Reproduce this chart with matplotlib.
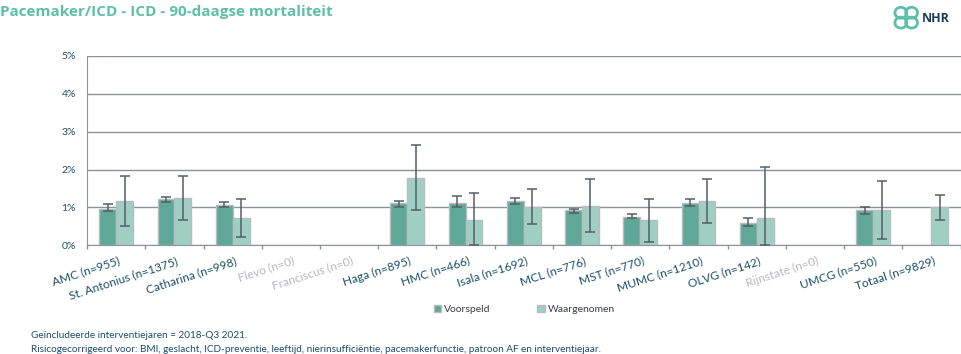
import matplotlib
matplotlib.use("Agg")
import matplotlib.pyplot as plt
import numpy as np
from matplotlib.patches import Circle, Patch

plt.rcParams['font.family'] = ['Lato', 'DejaVu Sans']

categories = ["AMC (n=955)", "St. Antonius (n=1375)", "Catharina (n=998)", "Flevo (n=0)",
              "Franciscus (n=0)", "Haga (n=895)", "HMC (n=466)", "Isala (n=1692)",
              "MCL (n=776)", "MST (n=770)", "MUMC (n=1210)", "OLVG (n=142)",
              "Rijnstate (n=0)", "UMCG (n=550)", "Totaal (n=9829)"]
voorspeld = [0.97, 1.23, 1.07, None, None, 1.11, 1.13, 1.16, 0.92, 0.76, 1.13, 0.60, None, 0.92, None]
v_low = [0.91, 1.14, 1.01, None, None, 1.00, 1.00, 1.10, 0.85, 0.71, 1.05, 0.50, None, 0.82, None]
v_high = [1.08, 1.28, 1.15, None, None, 1.18, 1.29, 1.25, 0.97, 0.84, 1.23, 0.72, None, 1.02, None]
waargenomen = [1.16, 1.26, 0.71, None, None, 1.79, 0.66, 1.00, 1.03, 0.66, 1.16, 0.71, None, 0.92, 1.00]
w_low = [0.50, 0.66, 0.21, None, None, 0.92, 0.00, 0.55, 0.34, 0.10, 0.58, 0.00, None, 0.16, 0.68]
w_high = [1.84, 1.82, 1.22, None, None, 2.65, 1.39, 1.49, 1.74, 1.22, 1.76, 2.08, None, 1.71, 1.33]
yticks = [0, 1, 2, 3, 4, 5]
ytick_labels = ["0%", "1%", "2%", "3%", "4%", "5%"]

c_v = "#5fa898"
c_w = "#9fcfc3"
c_edge = "#b8bcc0"
c_err = "#555e68"
c_text = "#1d4d6b"
c_grey = "#b4b8bc"
c_grid = "#8a939b"

fig = plt.figure(figsize=(9.62, 3.54), dpi=100)
ax = fig.add_axes([0.0905, 0.307, 0.908, 0.535])

x = np.arange(len(categories))
bw = 0.29

for i in x:
    if voorspeld[i] is not None:
        ax.bar(i - bw / 2, voorspeld[i], width=bw, color=c_v, edgecolor=c_edge, linewidth=1.0, zorder=3)
        ax.errorbar(i - bw / 2, voorspeld[i],
                    yerr=[[voorspeld[i] - v_low[i]], [v_high[i] - voorspeld[i]]],
                    fmt='none', ecolor=c_err, elinewidth=1.1, capsize=3.5, capthick=1.1, zorder=4)
    if waargenomen[i] is not None:
        ax.bar(i + bw / 2, waargenomen[i], width=bw, color=c_w, edgecolor=c_edge, linewidth=1.0, zorder=3)
        ax.errorbar(i + bw / 2, waargenomen[i],
                    yerr=[[waargenomen[i] - w_low[i]], [w_high[i] - waargenomen[i]]],
                    fmt='none', ecolor=c_err, elinewidth=1.1, capsize=3.5, capthick=1.1, zorder=4)

ax.set_xlim(-0.5, len(categories) - 0.5)
ax.set_ylim(0, 5)
ax.set_yticks(yticks)
ax.set_yticklabels(ytick_labels, fontsize=7.5, color=c_text)
ax.yaxis.grid(True, color=c_grid, linewidth=1.0, zorder=0)
ax.set_axisbelow(True)
ax.tick_params(axis='y', length=0, pad=8)

ax.set_xticks(x)
ax.set_xticklabels([])
ax.tick_params(axis='x', length=0)
ax.set_xticks(np.arange(len(categories) + 1) - 0.5, minor=True)
ax.tick_params(axis='x', which='minor', length=3, color=c_grid, width=1.0)

for i, lab in enumerate(categories):
    col = c_grey if "(n=0)" in lab else c_text
    ax.text(i + 0.03, -0.26, lab, rotation=18, rotation_mode='anchor', ha='right', va='top',
            fontsize=8.6, color=col, transform=ax.transData, clip_on=False)

for s in ['top', 'right']:
    ax.spines[s].set_visible(False)
ax.spines['left'].set_color(c_grid)
ax.spines['bottom'].set_color(c_grid)

# Title
fig.text(0.0, 0.965, "Pacemaker/ICD - ICD - 90-daagse mortaliteit", fontsize=11, fontweight='bold',
         color="#5cc0a8", ha='left', va='center', family=['Open Sans', 'DejaVu Sans'])

# NHR logo
lax = fig.add_axes([0.928, 0.915, 0.028, 0.07])
lax.set_xlim(0, 1); lax.set_ylim(0, 1); lax.axis('off')
for (cx, cy) in [(0.3, 0.3), (0.7, 0.3), (0.3, 0.7), (0.7, 0.7)]:
    lax.add_patch(Circle((cx, cy), 0.22, fill=False, edgecolor="#5cc0a8", linewidth=2.0))
fig.text(0.958, 0.948, "NHR", fontsize=9, fontweight='bold', color="#1d3c5a", ha='left', va='center',
         family=['Open Sans', 'DejaVu Sans'])

# Legend
handles = [Patch(facecolor=c_v, edgecolor=c_edge, label="Voorspeld"),
           Patch(facecolor=c_w, edgecolor=c_edge, label="Waargenomen")]
fig.legend(handles=handles, loc='center', bbox_to_anchor=(0.545, 0.125), ncol=2, frameon=False,
           fontsize=7.5, handlelength=0.7, handleheight=0.7, columnspacing=4.5, handletextpad=0.3,
           labelcolor="#3a3f45")

fig.text(0.032, 0.052, "Geïncludeerde interventiejaren = 2018-Q3 2021.", fontsize=7.2, color=c_text,
         ha='left', va='center')
fig.text(0.032, 0.013, "Risicogecorrigeerd voor: BMI, geslacht, ICD-preventie, leeftijd, nierinsufficiëntie, pacemakerfunctie, patroon AF en interventiejaar.",
         fontsize=7.2, color=c_text, ha='left', va='center')

fig.savefig("out.png", dpi=100)
